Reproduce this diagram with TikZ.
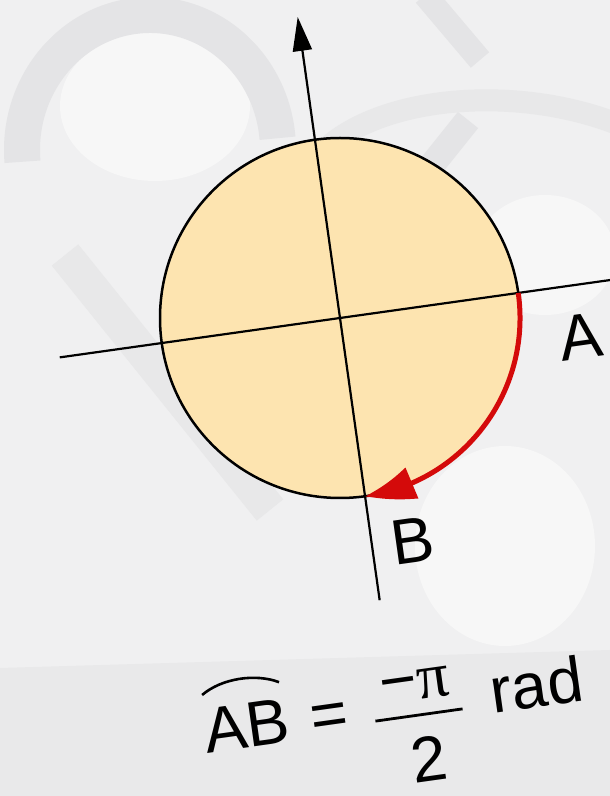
\documentclass[tikz,border=0pt]{standalone}
\usepackage{fontspec}
\setmainfont{Liberation Sans}
\newfontfamily\serifgr{Liberation Serif}
\usetikzlibrary{arrows.meta,bending,calc}
\definecolor{bgbase}{HTML}{F0F0F1}
\definecolor{bglight}{HTML}{F7F7F7}
\definecolor{bgdark}{HTML}{E4E4E6}
\definecolor{bgmid}{HTML}{E9E9EA}
\definecolor{peach}{HTML}{FDE4B0}
\definecolor{arcred}{HTML}{D40A0A}
\tikzset{
  axisline/.style={line width=2.2pt, black},
  redarc/.style={line width=5pt, arcred},
  txt/.style={font=\fontsize{64}{70}\selectfont, inner sep=0pt, text=black},
  bgband/.style={line width=#1, bgdark},
}
\begin{document}
\begin{tikzpicture}[x=1pt,y=1pt]
\useasboundingbox (0,0) rectangle (610,796);
\clip (0,0) rectangle (610,796);
% ---------- background ----------
\fill[bgbase] (0,0) rectangle (610,796);
\fill[bglight] (155,690) ellipse [x radius=95, y radius=75];
\fill[bglight] (545,541) ellipse [x radius=70, y radius=60];
\fill[bglight] (505,250) ellipse [x radius=90, y radius=100];
\fill[bgmid] (0,128) -- (610,146) -- (610,0) -- (0,0) -- cycle;
\draw[bgband=36pt] ([shift={(185:128 and 135)}]150,646) arc[start angle=185, end angle=5, x radius=128, y radius=135];
\draw[bgband=24pt] (425,801) -- (480,736);
\draw[bgband=26pt] (432,631) -- (468,676);
\draw[bgband=22pt, bgdark!70!bgbase] (330,651) .. controls (390,701) and (520,711) .. (620,671);
\draw[bgband=34pt, bgdark!70!bgbase] (65,541) -- (270,286);
% ---------- circle and axes ----------
\coordinate (O) at (340,478);
\node[circle, draw=black, line width=2.5pt, fill=peach, minimum size=360pt, inner sep=0pt] (circ) at (O) {};
\coordinate (L) at ($(O)+(188:283)$);
\coordinate (R) at ($(O)+(8:320)$);
\coordinate (T) at ($(O)+(98:304)$);
\coordinate (Bot) at ($(O)+(278:285)$);
\coordinate (A) at ($(O)+(8:180)$);
\coordinate (B) at ($(O)+(278:180)$);
\draw[axisline] (L) -- (R);
\draw[axisline, -{Triangle[length=34pt,width=19pt]}] (Bot) -- (T);
\draw[redarc, -{Triangle[length=50pt,width=32pt,bend]}] (A) arc[start angle=8, end angle=-82, radius=180];
% ---------- labels ----------
\node[txt, rotate=8] (la) at (581,459.5) {A};
\node[txt, rotate=8] (lb) at (412.5,255) {B};
% ---------- equation ----------
\begin{scope}[shift={(419,81)}, rotate=8, transform shape]
  \node[txt, anchor=base west] (ab) at (-215,-9) {AB};
  \draw[line width=2.6pt] (-212,50) .. controls (-190,64) and (-156,64) .. (-134,52);
  \node[txt] (eqs) at (-89,7) {=};
  \node[txt, anchor=base] (num) at (0,15) {−{\serifgr π}};
  \coordinate (barl) at (-44,0);
  \coordinate (barr) at (44,0);
  \draw[line width=2.8pt] (barl) -- (barr);
  \node[txt, anchor=base] (den) at (4,-67) {2};
  \node[txt, anchor=base west] (rad) at (74,-9) {rad};
\end{scope}
\end{tikzpicture}
\end{document}
